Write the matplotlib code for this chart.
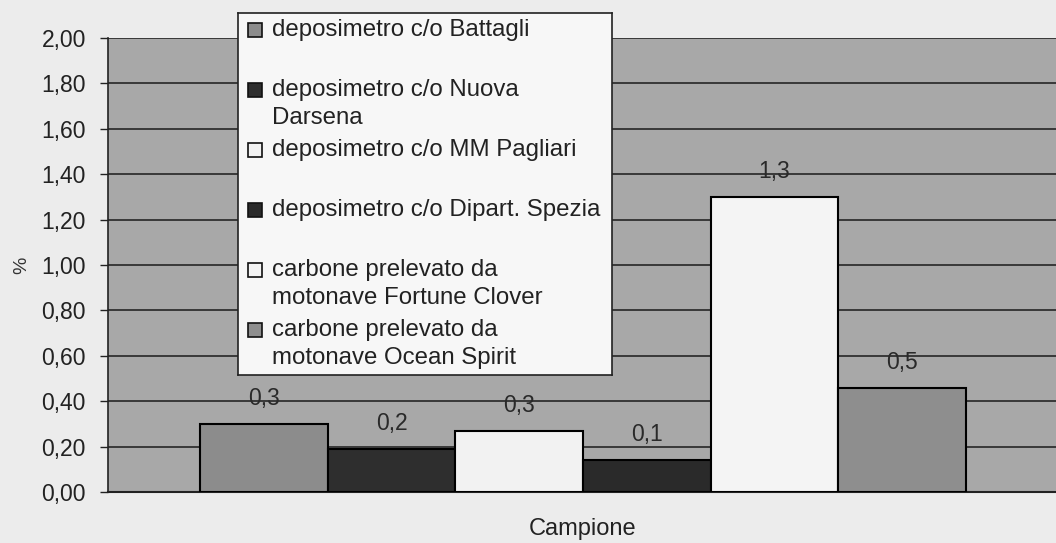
import matplotlib.pyplot as plt
from matplotlib.patches import Rectangle

plt.rcParams['font.family'] = ['Liberation Sans', 'DejaVu Sans']

# dati
campioni = ["deposimetro c/o Battagli",
            "deposimetro c/o Nuova\nDarsena",
            "deposimetro c/o MM Pagliari",
            "deposimetro c/o Dipart. Spezia",
            "carbone prelevato da\nmotonave Fortune Clover",
            "carbone prelevato da\nmotonave Ocean Spirit"]
valori = [0.30, 0.19, 0.27, 0.14, 1.30, 0.46]
colori = ["#8c8c8c", "#2e2e2e", "#f2f2f2", "#2a2a2a", "#f4f4f4", "#8e8e8e"]
yticks = [0.0, 0.2, 0.4, 0.6, 0.8, 1.0, 1.2, 1.4, 1.6, 1.8, 2.0]

W, H = 1056, 543
fig = plt.figure(figsize=(W / 100, H / 100), dpi=100, facecolor="#ececec")
ax = fig.add_axes([108 / W, 1 - 492 / H, 1 - 108 / W + 0.002, (492 - 38) / H])
ax.set_facecolor("#a8a8a8")

x = list(range(len(valori)))
ax.bar(x, valori, width=1.0, color=colori, edgecolor="black", linewidth=1.5, zorder=3)
for xi, v in zip(x, valori):
    ax.annotate(f"{v:.1f}".replace(".", ","), (xi, v), xytext=(0, 10),
                textcoords="offset points", ha="center", va="bottom",
                fontsize=16.5, color="#2a2a2a", zorder=4)

ax.set_xlim(-1.222, 6.222)
ax.set_ylim(0, 2.0)
ax.set_yticks(yticks)
ax.set_yticklabels([f"{t:.2f}".replace(".", ",") for t in yticks], fontsize=16.5, color="#222222")
ax.set_xticks([])
ax.tick_params(axis="y", direction="out", length=6, width=1, pad=10, color="#222222")
ax.yaxis.grid(True, color="#1a1a1a", linewidth=1.1, zorder=1)
ax.set_axisbelow(True)
for s in ["top", "right"]:
    ax.spines[s].set_visible(False)
ax.spines["left"].set_color("#222222")
ax.spines["bottom"].set_color("#222222")
ax.spines["left"].set_linewidth(1.2)
ax.spines["bottom"].set_linewidth(1.5)
ax.set_ylabel("%", fontsize=14, color="#333333", labelpad=8)
ax.set_xlabel("Campione", fontsize=17, color="#222222", labelpad=19)

# legenda disegnata a mano (stile Excel, simbolo allineato alla prima riga)
leg = fig.add_axes([238 / W, 1 - 375 / H, 374 / W, 362 / H])
leg.set_xlim(0, 374)
leg.set_ylim(362, 0)
leg.set_facecolor("#f7f7f7")
leg.set_xticks([])
leg.set_yticks([])
for s in leg.spines.values():
    s.set_color("#222222")
    s.set_linewidth(1.2)
for i, (lab, col) in enumerate(zip(campioni, colori)):
    yc = 17 + 60 * i
    leg.add_patch(Rectangle((10, yc - 7), 14, 14, facecolor=col, edgecolor="#111111", linewidth=1.2))
    for j, riga in enumerate(lab.split("\n")):
        leg.text(34, yc + 28 * j, riga, fontsize=17.3, va="center", ha="left", color="#222222")

fig.savefig("out.png", dpi=100, facecolor=fig.get_facecolor())
